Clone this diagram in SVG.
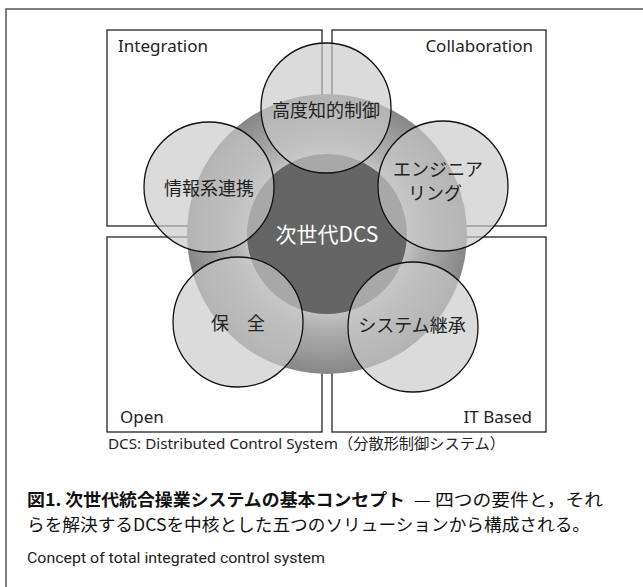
<svg xmlns="http://www.w3.org/2000/svg" width="643" height="587" viewBox="0 0 643 587">
  <style>
    .frame { fill: none; stroke: #555; stroke-width: 1.5; }
    .quad { fill: #fff; stroke: #222; stroke-width: 1.3; }
    .sol { fill: #cacaca; fill-opacity: 0.67; stroke: #111; stroke-width: 1.3; }
    .lat { font-family: "Noto Sans", "Liberation Sans", sans-serif; font-size: 17px; fill: #222; }
    .jp { font-family: "Noto Sans CJK JP", "Noto Sans", sans-serif; font-size: 18px; fill: #222; }
    .core { font-family: "Noto Sans CJK JP", "Noto Sans", sans-serif; font-size: 21px; fill: #fff; }
    .note { font-family: "Noto Sans", "Noto Sans CJK JP", sans-serif; font-size: 15px; fill: #222; }
    .cap { font-family: "Noto Sans CJK JP", sans-serif; font-size: 17px; fill: #111; }
    .capb { font-family: "Noto Sans CJK JP", sans-serif; font-size: 17px; font-weight: bold; fill: #111; }
    .en { font-family: "Roboto", "Liberation Sans", sans-serif; font-size: 15.5px; fill: #222; }
  </style>
  <defs>
    <radialGradient id="ringGrad" cx="327" cy="234" r="140" gradientUnits="userSpaceOnUse">
      <stop offset="0.57" stop-color="#c2c2c2"/>
      <stop offset="0.66" stop-color="#b2b2b2"/>
      <stop offset="1" stop-color="#878787"/>
    </radialGradient>
  </defs>

  <rect width="643" height="587" fill="#fff"/>
  <!-- page frame -->
  <path class="frame" d="M6,587 V9 H643"/>

  <!-- four requirement quadrants -->
  <g id="quad-integration">
    <rect class="quad" x="107" y="30" width="215" height="196"/>
    <text class="lat" x="118" y="52">Integration</text>
  </g>
  <g id="quad-collaboration">
    <rect class="quad" x="332" y="30" width="214" height="196"/>
    <text class="lat" x="533" y="52" text-anchor="end">Collaboration</text>
  </g>
  <g id="quad-open">
    <rect class="quad" x="107" y="237" width="215" height="195"/>
    <text class="lat" x="120" y="423">Open</text>
  </g>
  <g id="quad-itbased">
    <rect class="quad" x="332" y="237" width="214" height="195"/>
    <text class="lat" x="532" y="423" text-anchor="end">IT Based</text>
  </g>

  <!-- core DCS disc -->
  <g id="core-dcs">
    <circle cx="327" cy="234" r="140" fill="url(#ringGrad)"/>
    <circle cx="327" cy="234" r="80" fill="#656565"/>
    <text class="core" x="327" y="242" text-anchor="middle">次世代DCS</text>
  </g>

  <!-- five solutions -->
  <g id="sol-control">
    <circle class="sol" cx="326" cy="108" r="65"/>
    <text class="jp" x="326" y="117" text-anchor="middle">高度知的制御</text>
  </g>
  <g id="sol-info">
    <circle class="sol" cx="209" cy="187" r="65"/>
    <text class="jp" x="209" y="195" text-anchor="middle">情報系連携</text>
  </g>
  <g id="sol-engineering">
    <circle class="sol" cx="443" cy="186" r="65"/>
    <text class="jp" x="438" y="176" text-anchor="middle">エンジニア</text>
    <text class="jp" x="435" y="200" text-anchor="middle">リング</text>
  </g>
  <g id="sol-maintenance">
    <circle class="sol" cx="238" cy="322" r="65"/>
    <text class="jp" x="238" y="330" text-anchor="middle">保　全</text>
  </g>
  <g id="sol-succession">
    <circle class="sol" cx="413" cy="327" r="65"/>
    <text class="jp" x="412" y="332" text-anchor="middle">システム継承</text>
  </g>

  <!-- connectors: none drawn in this figure -->
  <g id="connectors"/>

  <!-- notes and caption -->
  <text class="note" x="108" y="449" textLength="397" lengthAdjust="spacingAndGlyphs">DCS: Distributed Control System（分散形制御システム）</text>
  <text class="capb" x="27" y="506" textLength="378" lengthAdjust="spacingAndGlyphs">図1. 次世代統合操業システムの基本コンセプト</text>
  <text class="cap" x="414" y="506" textLength="189" lengthAdjust="spacingAndGlyphs">— 四つの要件と，それ</text>
  <text class="cap" x="27" y="531" textLength="563" lengthAdjust="spacingAndGlyphs">らを解決するDCSを中核とした五つのソリューションから構成される。</text>
  <text class="en" x="27" y="563" textLength="298" lengthAdjust="spacingAndGlyphs">Concept of total integrated control system</text>
</svg>
